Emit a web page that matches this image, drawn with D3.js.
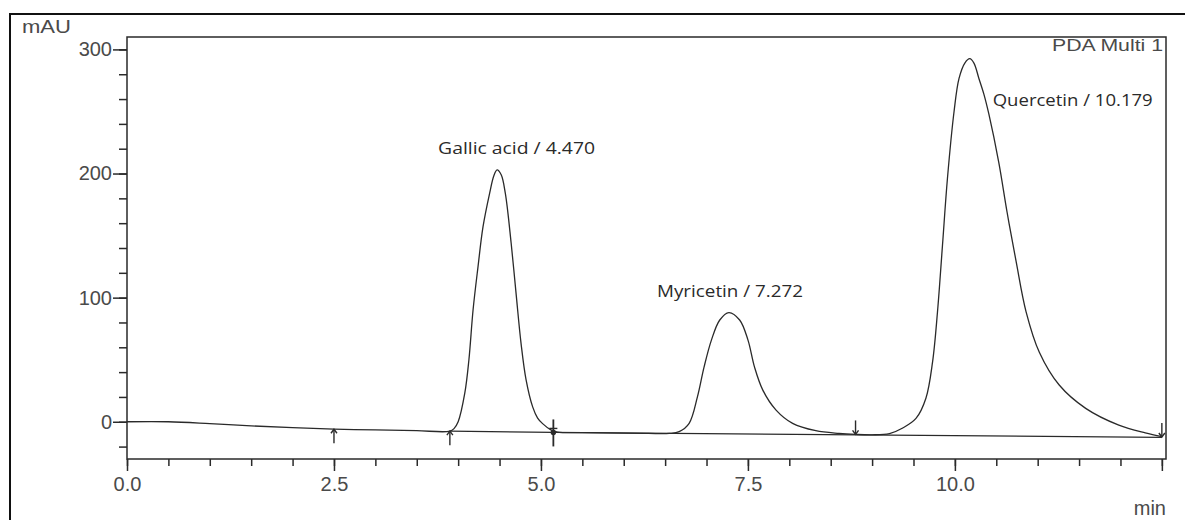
<!DOCTYPE html>
<html><head><meta charset="utf-8">
<script src="https://cdn.jsdelivr.net/npm/d3@7"></script>
<style>body{margin:0;background:#fff;} svg{display:block;}</style>
</head><body><svg id="c" width="1185" height="520"></svg>
<script>
// ---- data ----
const time = [0.00,0.50,1.00,1.50,2.00,2.50,3.00,3.50,3.90,3.95,4.00,4.08,4.13,4.18,4.24,4.30,4.38,4.43,4.47,4.52,4.57,4.64,4.70,4.76,4.82,4.90,4.96,5.02,5.12,5.20,5.50,6.00,6.30,6.55,6.67,6.79,6.89,6.97,7.06,7.16,7.27,7.40,7.50,7.58,7.68,7.84,8.04,8.32,8.60,8.80,9.00,9.21,9.37,9.53,9.65,9.73,9.79,9.85,9.91,9.99,10.05,10.12,10.18,10.23,10.29,10.35,10.41,10.53,10.63,10.74,10.86,11.02,11.26,11.58,11.98,12.30,12.50];
const mAU  = [0,0,-1.5,-3.3,-4.8,-6.0,-6.6,-7.2,-7.6,-5.5,0,23,50,90,125,157,184,198,203,199,184,144,103,63,34,12,3,-1.5,-6.5,-8.3,-8.8,-9.2,-9.4,-9.4,-8,-1.3,20,44,66,82,88,82,66,44,25.5,9.4,-1.3,-7.2,-9.4,-10.2,-10.5,-9.5,-5,2.7,19,48,88.6,142,196,250,276.6,289,292.5,289,276.6,264,248,209,169,129,88.6,56,29.6,10.8,-2.7,-9,-12];
const peakNames   = ["Gallic acid","Myricetin","Quercetin"];
const peakTimes   = [4.470, 7.272, 10.179];
const peakHeights = [203, 88, 292.5];
const xTickValues = [0, 2.5, 5.0, 7.5, 10.0, 12.5];
const xTickLabels = ["0.0", "2.5", "5.0", "7.5", "10.0", ""];
const yTickValues = [0, 100, 200, 300];
const markerTimes  = [2.5, 3.9, 5.15, 8.8, 12.5];
const markerValues = [-6.0, -7.6, -8.6, -10.2, -12.3];
const markerKinds  = ["up","up","cross","down","down"];
const baseStartT = [3.90, 5.15];
const baseStartV = [-7.6, -8.6];
const baseEndT   = [5.15, 12.50];
const baseEndV   = [-8.6, -12.5];

// ---- layout ----
const svg = d3.select("#c");
const L = 127, R = 1166, T = 37, B = 459;
const x = d3.scaleLinear().domain([0, 12.55]).range([L, R]);
const y = d3.scaleLinear().domain([-30, 310]).range([B, T]);
const ink = "#2a2a2a", labelInk = "#4a4a4a";

// outer frame
svg.append("rect").attr("x",10).attr("y",14).attr("width",1200).attr("height",520)
  .attr("fill","none").attr("stroke","#111").attr("stroke-width",2);

// plot frame
svg.append("rect").attr("x",L).attr("y",T).attr("width",R-L).attr("height",B-T)
  .attr("fill","none").attr("stroke",ink).attr("stroke-width",1.5);

// y axis: minor ticks
svg.append("g").attr("transform",`translate(${L},0)`)
  .call(d3.axisLeft(y).tickValues(d3.range(-20, 301, 20)).tickSize(8).tickFormat(""))
  .call(g=>{g.select(".domain").remove(); g.selectAll("line").attr("stroke",ink).attr("stroke-width",1.5);});
// y axis: major ticks
svg.append("g").attr("transform",`translate(${L},0)`)
  .call(d3.axisLeft(y).tickValues(yTickValues).tickSize(14).tickPadding(1).tickFormat(d3.format("d")))
  .call(g=>{g.select(".domain").remove(); g.selectAll("line").attr("stroke",ink).attr("stroke-width",1.5);
    g.selectAll("text").attr("fill",labelInk).attr("font-family","'Liberation Sans',Arial,sans-serif").attr("font-size",20);});

// x axis: minor ticks
svg.append("g").attr("transform",`translate(0,${B})`)
  .call(d3.axisBottom(x).tickValues(d3.range(0, 12.51, 0.5)).tickSize(7).tickFormat(""))
  .call(g=>{g.select(".domain").remove(); g.selectAll("line").attr("stroke",ink).attr("stroke-width",1.5);});
// x axis: major ticks
svg.append("g").attr("transform",`translate(0,${B})`)
  .call(d3.axisBottom(x).tickValues(xTickValues).tickSize(12).tickFormat((d,i)=>xTickLabels[i]))
  .call(g=>{g.select(".domain").remove(); g.selectAll("line").attr("stroke",ink).attr("stroke-width",1.5);
    g.selectAll("text").attr("fill",labelInk).attr("font-family","'Liberation Sans',Arial,sans-serif")
      .attr("font-size",20).attr("y",32).attr("dy",0);});

// axis titles
svg.append("text").attr("x",22).attr("y",33).text("mAU")
  .attr("fill",labelInk).attr("font-family","'Liberation Sans',Arial,sans-serif").attr("font-size",18)
  .attr("textLength",49).attr("lengthAdjust","spacingAndGlyphs");
svg.append("text").attr("x",1166).attr("y",515).attr("text-anchor","end").text("min")
  .attr("fill",labelInk).attr("font-family","'Liberation Sans',Arial,sans-serif").attr("font-size",20);
svg.append("text").attr("x",1052).attr("y",51).text("PDA Multi 1")
  .attr("fill",labelInk).attr("font-family","'Liberation Sans',Arial,sans-serif").attr("font-size",16)
  .attr("textLength",111).attr("lengthAdjust","spacingAndGlyphs");

// integration baselines
svg.append("g").selectAll("line").data(baseStartT).join("line")
  .attr("x1",(d,i)=>x(d)).attr("y1",(d,i)=>y(baseStartV[i]))
  .attr("x2",(d,i)=>x(baseEndT[i])).attr("y2",(d,i)=>y(baseEndV[i]))
  .attr("stroke",ink).attr("stroke-width",1.2);

// trace
const pts = time.map((t,i)=>[t, mAU[i]]);
svg.append("path").datum(pts)
  .attr("d", d3.line().x(d=>x(d[0])).y(d=>y(d[1])).curve(d3.curveCatmullRom.alpha(0.5)))
  .attr("fill","none").attr("stroke",ink).attr("stroke-width",1.3);

// peak markers
const mk = svg.append("g").attr("stroke",ink).attr("stroke-width",1.4).attr("fill","none");
markerTimes.forEach((t,i)=>{
  const px = x(t), py = y(markerValues[i]);
  const kind = markerKinds[i];
  if (kind === "up") {
    mk.append("line").attr("x1",px).attr("x2",px).attr("y1",py).attr("y2",py+14);
    mk.append("path").attr("d",`M${px-3},${py+4}L${px},${py}L${px+3},${py+4}`);
  } else if (kind === "down") {
    mk.append("line").attr("x1",px).attr("x2",px).attr("y1",py-14).attr("y2",py);
    mk.append("path").attr("d",`M${px-3},${py-4}L${px},${py}L${px+3},${py-4}`);
  } else {
    mk.append("line").attr("x1",px).attr("x2",px).attr("y1",py-13).attr("y2",py+14).attr("stroke-width",1.8);
    mk.append("line").attr("x1",px-4).attr("x2",px+4).attr("y1",py-4).attr("y2",py-4);
    mk.append("circle").attr("cx",px).attr("cy",py).attr("r",2).attr("fill",ink);
  }
});

// peak labels
const labelDx = [-59, -72, 23];
const labelDy = [-16, -16, 47];
const labelLen = [157, 146, 160];
peakNames.forEach((n,i)=>{
  svg.append("text").attr("x", x(peakTimes[i]) + labelDx[i]).attr("y", y(peakHeights[i]) + labelDy[i])
    .text(`${n} / ${peakTimes[i].toFixed(3)}`)
    .attr("fill","#2a2a2a").attr("font-family","'Open Sans','Noto Sans',sans-serif").attr("font-size",16)
    .attr("textLength",labelLen[i]).attr("lengthAdjust","spacingAndGlyphs");
});
</script></body></html>
